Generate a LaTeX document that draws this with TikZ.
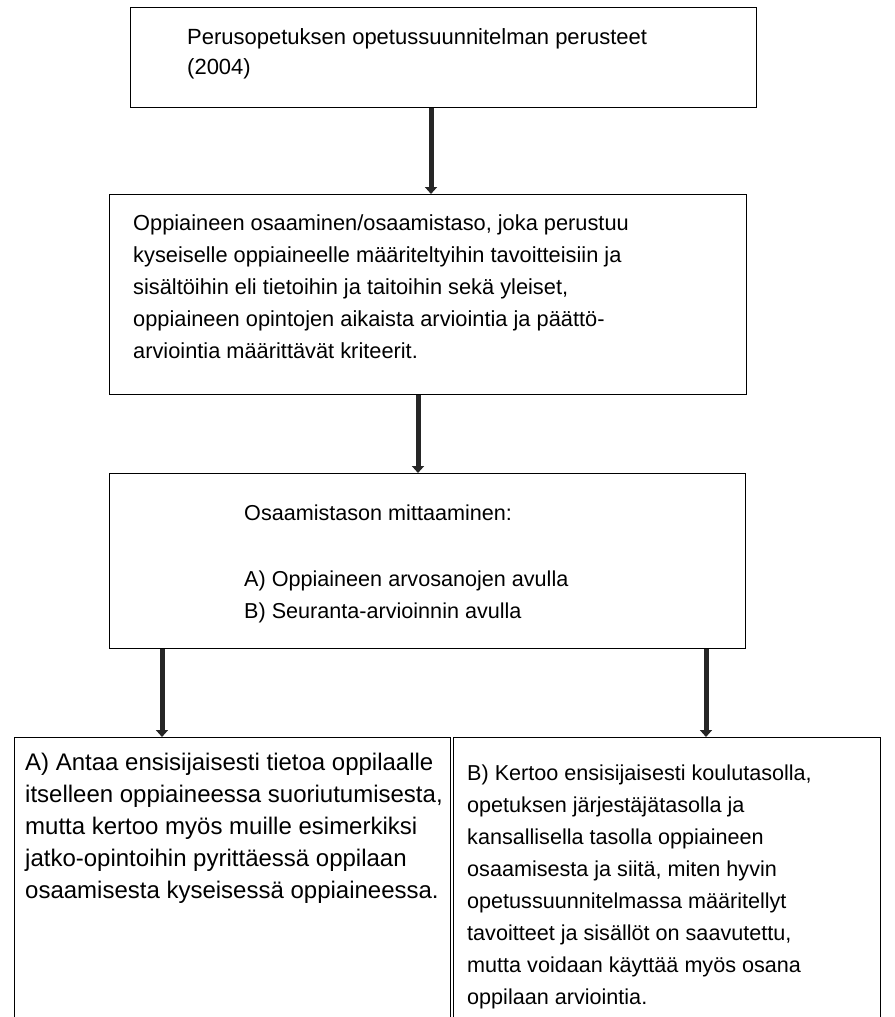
\documentclass[tikz,border=0pt]{standalone}
\usepackage{fontspec}
\setmainfont{Liberation Sans}
\usetikzlibrary{arrows.meta}
\tikzset{
  box/.style={draw=black, line width=1.3pt, fill=white, inner sep=0pt, anchor=north west},
  txt/.style={anchor=base west, align=left, inner sep=0pt, font=\fontsize{21.6}{32}\selectfont},
  conn/.style={draw=black!85, line width=5pt, -{Triangle[width=12pt,length=7pt]}}
}
\begin{document}
\begin{tikzpicture}[x=1pt,y=-1pt]
\useasboundingbox (0,0) rectangle (894,1017);
\clip (0,0) rectangle (894,1017);
% boxes
\node[box, minimum width=626pt, minimum height=100pt] (b1) at (130,7) {};
\node[box, minimum width=637pt, minimum height=200pt] (b2) at (109,194) {};
\node[box, minimum width=636pt, minimum height=175pt] (b3) at (109,473) {};
\node[box, minimum width=436pt, minimum height=300pt] (b4) at (14,737) {};
\node[box, minimum width=427pt, minimum height=300pt] (b5) at (453,737) {};
% texts (anchored at the baseline of their last line)
\node[txt, font=\fontsize{22}{30}\selectfont] (t1) at (187,74) {Perusopetuksen opetussuunnitelman perusteet\\(2004)};
\node[txt, font=\fontsize{21.8}{32}\selectfont] (t2) at (133,358) {Oppiaineen osaaminen/osaamistaso, joka perustuu\\kyseiselle oppiaineelle määriteltyihin tavoitteisiin ja\\sisältöihin eli tietoihin ja taitoihin sekä yleiset,\\oppiaineen opintojen aikaista arviointia ja päättö-\\arviointia määrittävät kriteerit.};
\node[txt] (t3) at (244,618) {Osaamistason mittaaminen:\\[34pt]A) Oppiaineen arvosanojen avulla\\B) Seuranta-arvioinnin avulla};
\node[txt, font=\fontsize{24}{32}\selectfont] (t4) at (25,898) {A) Antaa ensisijaisesti tietoa oppilaalle\\itselleen oppiaineessa suoriutumisesta,\\mutta kertoo myös muille esimerkiksi\\jatko-opintoihin pyrittäessä oppilaan\\osaamisesta kyseisessä oppiaineessa.};
\node[txt] (t5) at (467,1004) {B) Kertoo ensisijaisesti koulutasolla,\\opetuksen järjestäjätasolla ja\\kansallisella tasolla oppiaineen\\osaamisesta ja siitä, miten hyvin\\opetussuunnitelmassa määritellyt\\tavoitteet ja sisällöt on saavutettu,\\mutta voidaan käyttää myös osana\\oppilaan arviointia.};
% connectors
\coordinate (a1s) at (431,107); \coordinate (a1e) at (431,194);
\coordinate (a2s) at (418,394); \coordinate (a2e) at (418,473);
\coordinate (a3s) at (162,648); \coordinate (a3e) at (162,737);
\coordinate (a4s) at (706,648); \coordinate (a4e) at (706,737);
\draw[conn] (b1.south -| a1s) -- (b2.north -| a1e);
\draw[conn] (b2.south -| a2s) -- (b3.north -| a2e);
\draw[conn] (b3.south -| a3s) -- (b4.north -| a3e);
\draw[conn] (b3.south -| a4s) -- (b5.north -| a4e);
\end{tikzpicture}
\end{document}
